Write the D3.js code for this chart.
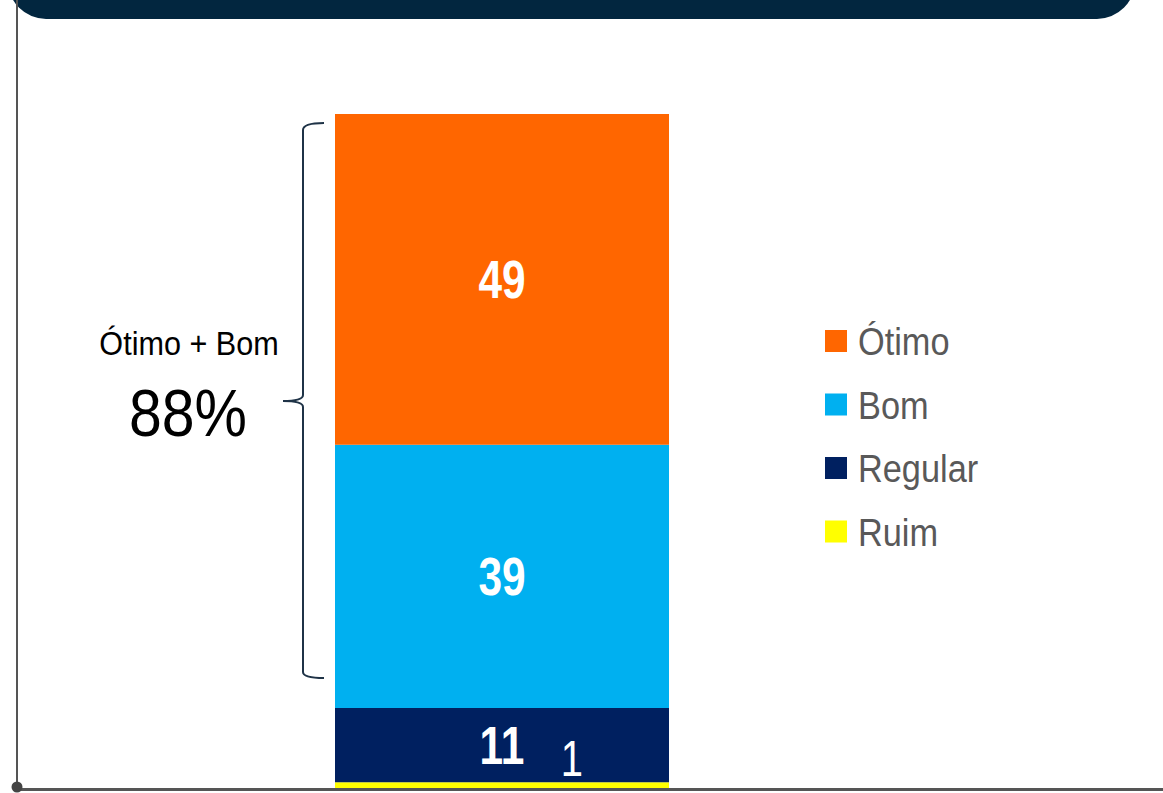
<!DOCTYPE html>
<html><head><meta charset="utf-8">
<script src="https://cdn.jsdelivr.net/npm/d3@7"></script>
<style>html,body{margin:0;padding:0;background:#fff;overflow:hidden}</style>
</head><body>
<svg id="chart" width="1163" height="793"></svg>
<script>
const categories = ["Ótimo", "Bom", "Regular", "Ruim"];
const values = [49, 39, 11, 1];
const colors = ["#FF6600", "#00B0F0", "#002060", "#FFFF00"];
const bracketLabel = "Ótimo + Bom";
const bracketValue = "88%";

const svg = d3.select("#chart");
const font = "'Liberation Sans Narrow','Arial Narrow','Liberation Sans',Arial,sans-serif";

// helper: horizontally condensed text
function ctext(parent, x, y, sx, anchor) {
  return parent.append("text")
    .attr("transform", `translate(${x},${y}) scale(${sx},1)`)
    .attr("text-anchor", anchor || "start")
    .attr("font-family", font);
}

// banner
svg.append("rect").attr("x", 8).attr("y", -60).attr("width", 1127).attr("height", 79)
  .attr("rx", 38).attr("ry", 38).attr("fill", "#02263F");

// frame lines
svg.append("line").attr("x1", 17).attr("x2", 17).attr("y1", 0).attr("y2", 788)
  .attr("stroke", "#555").attr("stroke-width", 2);

const y = d3.scaleLinear().domain([0, 100]).range([789, 114]);
const x = d3.scaleBand().domain(["total"]).range([335, 669]).padding(0);

// stack from bottom: Ruim, Regular, Bom, Ótimo
const order = [3, 2, 1, 0];
let cum = 0;
const segs = order.map(i => { const s = {i, y0: cum, y1: cum + values[i]}; cum += values[i]; return s; });

svg.selectAll("rect.seg").data(segs).enter().append("rect")
  .attr("class", "seg")
  .attr("x", x("total")).attr("width", x.bandwidth())
  .attr("y", d => y(d.y1)).attr("height", d => y(d.y0) - y(d.y1))
  .attr("fill", d => colors[d.i]);

svg.append("line").attr("x1", 17).attr("x2", 1163).attr("y1", 789.5).attr("y2", 789.5)
  .attr("stroke", "#555").attr("stroke-width", 3);
svg.append("circle").attr("cx", 17).attr("cy", 787).attr("r", 5.5).attr("fill", "#444");

// labels for big segments
segs.filter(d => values[d.i] > 5).forEach(d => {
  ctext(svg, x("total") + x.bandwidth() / 2, (y(d.y0) + y(d.y1)) / 2 + 19, 0.8, "middle")
    .attr("font-weight", "bold").attr("font-size", 53)
    .attr("fill", "#fff").text(values[d.i]);
});
// small Ruim label
const ruim = segs.find(d => d.i === 3);
ctext(svg, x("total") + x.bandwidth() / 2 + 70, y(ruim.y1) - 6, 0.8, "middle")
  .attr("font-size", 50).attr("fill", "#fff").text(values[3]);

// bracket
const bt = 124, bb = 678, bm = 401, bx = 303;
const br = d3.path();
br.moveTo(324, bt - 1);
br.quadraticCurveTo(bx, bt - 1, bx, bt + 6);
br.lineTo(bx, bm - 6);
br.quadraticCurveTo(bx, bm, 283, bm);
br.quadraticCurveTo(bx, bm, bx, bm + 6);
br.lineTo(bx, bb - 6);
br.quadraticCurveTo(bx, bb, 324, bb);
svg.append("path").attr("d", br.toString()).attr("fill", "none")
  .attr("stroke", "#1F3347").attr("stroke-width", 2);

ctext(svg, 189, 355, 0.9, "middle")
  .attr("font-size", 34).attr("fill", "#000").text(bracketLabel);
ctext(svg, 188, 436, 0.88, "middle")
  .attr("font-size", 67).attr("fill", "#000").text(bracketValue);

// legend
const lg = svg.append("g");
categories.forEach((c, i) => {
  const cy = 341 + i * 63.5;
  lg.append("rect").attr("x", 825).attr("y", cy - 11).attr("width", 22).attr("height", 22).attr("fill", colors[i]);
  ctext(lg, 858, cy + 14, 0.88, "start")
    .attr("font-size", 39).attr("fill", "#595959").text(c);
});
</script>
</body></html>
